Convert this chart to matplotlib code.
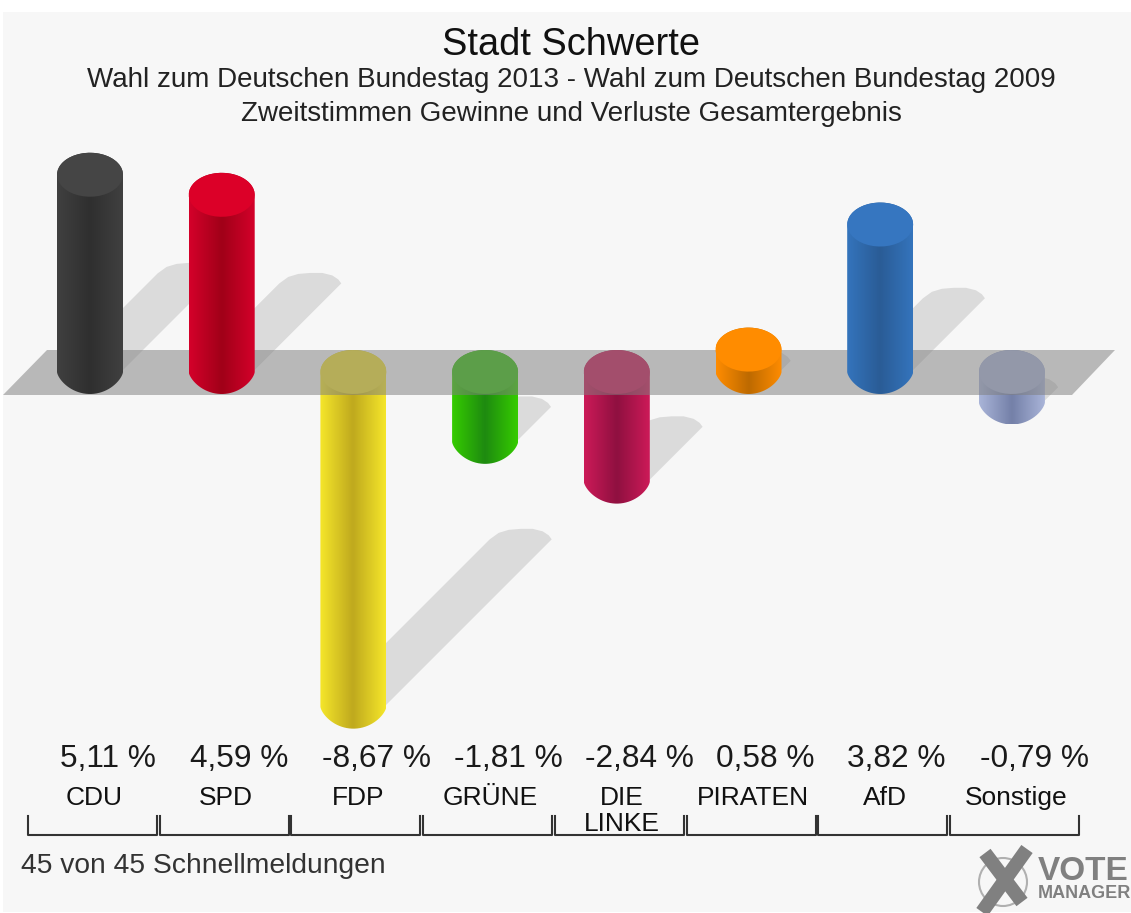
import numpy as np
import matplotlib
matplotlib.use('Agg')
import matplotlib.pyplot as plt
from matplotlib.colors import LinearSegmentedColormap
from matplotlib.patches import Polygon, Rectangle, Circle
from matplotlib.transforms import Affine2D

plt.rcParams['font.family'] = ['Liberation Sans', 'DejaVu Sans']

# chart values
parties = ['CDU', 'SPD', 'FDP', 'GRÜNE', 'DIE', 'PIRATEN', 'AfD', 'Sonstige']
changes = [5.11, 4.59, -8.67, -1.81, -2.84, 0.58, 3.82, -0.79]
value_labels = ['5,11 %', '4,59 %', '-8,67 %', '-1,81 %', '-2,84 %', '0,58 %', '3,82 %', '-0,79 %']

# edge, centre and lid colour of every cylinder
edge_colors = ['#404040', '#d4002a', '#f5e62a', '#35cc00', '#cc1a58', '#ff8c00', '#3474bc', '#a9b4d8']
mid_colors = ['#2f2f2f', '#a00018', '#bfa91e', '#1e8a10', '#8f1040', '#bd6a00', '#2a5c96', '#7480a8']
top_colors = ['#454545', '#dc0028', '#f0e030', '#38c010', '#cc1a58', '#ff8c00', '#3676c0', '#a9b4d8']

W, H = 1131, 913
X0, X_STEP = 90.0, 131.7     # pixel of first bar, pixels per bar
Y0, Y_STEP = 372.0, 38.6     # pixel of the zero line, pixels per percent
RX, RY = 33.0, 22.0          # cylinder ellipse in pixels

fig = plt.figure(figsize=(W / 100, H / 100), dpi=100, facecolor='white')
ax = fig.add_axes([0, 0, 1, 1])
ax.set_axis_off()
pix = Affine2D().scale(1 / W, -1 / H).translate(0, 1) + fig.transFigure

ax.add_patch(Rectangle((3, 12), W - 3, 900, transform=pix, fc='#f7f7f7', ec='none', zorder=0))

rx = RX / X_STEP
ry = RY / Y_STEP
t = np.linspace(0, np.pi, 40)

# end of a shadow, pixels around its centre
cap_dx = np.array([-31, -22, -12, 0, 12, 22, 28, 31]) / X_STEP
cap_dy = np.array([0, 6.5, 9.5, 10.5, 10.5, 8, 4, 0]) / Y_STEP


def draw_shadow(i, v):
    # shadow runs up and to the right, half as long as the bar
    length = abs(v) * 0.5
    y0 = min(v, 0)
    x1 = i + length * Y_STEP / X_STEP
    y1 = y0 + length
    sx = 31 / X_STEP
    xs = np.r_[i - sx, x1 + cap_dx, i + sx]
    ys = np.r_[y0, y1 + cap_dy, y0]
    ax.add_patch(Polygon(np.c_[xs, ys], fc='black', alpha=0.11, ec='none', zorder=1))


def draw_bar(i, v, z):
    hi, lo = max(v, 0), min(v, 0)
    # bottom end is a bit more pointed than an ellipse
    xs = np.r_[i - rx, i - rx * np.cos(t), i + rx, i + rx * np.cos(t)]
    ys = np.r_[lo, lo - ry * np.sin(t) ** 1.35, lo, hi + ry * np.sin(t)]
    shape = Polygon(np.c_[xs, ys], fc='none', ec='none', zorder=z)
    ax.add_patch(shape)
    cmap = LinearSegmentedColormap.from_list('c', [edge_colors[i], mid_colors[i], edge_colors[i]])
    im = ax.imshow(np.linspace(0, 1, 120)[None, :], cmap=cmap, aspect='auto', zorder=z,
                   extent=(i - rx, i + rx, lo - ry, hi + ry), interpolation='bilinear')
    im.set_clip_path(shape)
    lid_x = i + rx * np.cos(2 * t)
    lid_y = hi + ry * np.sin(2 * t)
    ax.add_patch(Polygon(np.c_[lid_x, lid_y], fc=top_colors[i], ec='none', zorder=z + 0.1))


for i, v in enumerate(changes):
    draw_shadow(i, v)
for i, v in enumerate(changes):
    draw_bar(i, v, 2 if v < 0 else 4)

# grey floor, in front of the falling bars and behind the rising ones
ax.add_patch(Polygon([(3, 395), (1072, 395), (1115, 350), (47, 350)], transform=pix,
                     fc='#7f7f7f', alpha=0.52, ec='none', zorder=3))

ax.set_xlim(-X0 / X_STEP, (W - X0) / X_STEP)
ax.set_ylim((Y0 - H) / Y_STEP, Y0 / Y_STEP)

ax.text(571, 45, 'Stadt Schwerte', transform=pix, fontsize=27.4, ha='center', va='center', color='#111111')
ax.text(571, 80, 'Wahl zum Deutschen Bundestag 2013 - Wahl zum Deutschen Bundestag 2009', transform=pix,
        fontsize=20, ha='center', va='center', color='#222222')
ax.text(571, 114, 'Zweitstimmen Gewinne und Verluste Gesamtergebnis', transform=pix,
        fontsize=20, ha='center', va='center', color='#222222')

# value labels, party names and brackets below the bars
val_x = [108, 239, 376, 508, 639, 765, 896, 1034]
name_x = [94, 226, 358, 490, 622, 753, 885, 1016]
for i in range(len(changes)):
    ax.text(val_x[i], 767, value_labels[i], transform=pix, fontsize=22.8, ha='center', va='baseline', color='#1a1a1a')
    ax.text(name_x[i], 805, parties[i], transform=pix, fontsize=19, ha='center', va='baseline', color='#111111')
    left = 28 + i * 131.7
    ax.plot([left, left, left + 129, left + 129], [816, 835, 835, 816], transform=pix, color='#333333', lw=1.5, zorder=5)
ax.text(622, 831, 'LINKE', transform=pix, fontsize=19, ha='center', va='baseline', color='#111111', zorder=6)

ax.text(21, 866, '45 von 45 Schnellmeldungen', transform=pix, fontsize=20.3, ha='left', va='center', color='#333333')

# VoteManager logo
ax.add_patch(Circle((1003, 882), 24, transform=pix, fc='none', ec='#b0b0b0', lw=1.5, zorder=5))
ax.plot([985, 1022], [853, 902], transform=pix, color='#808080', lw=10, solid_capstyle='butt', zorder=6)
ax.plot([1027, 982], [849, 912], transform=pix, color='#808080', lw=10, solid_capstyle='butt', zorder=6)
ax.text(1038, 880, 'VOTE', transform=pix, fontsize=24, fontweight='bold', ha='left', va='baseline', color='#808080')
ax.text(1038, 898, 'MANAGER', transform=pix, fontsize=13, fontweight='bold', ha='left', va='baseline', color='#808080')

fig.savefig('out.png', dpi=100)
